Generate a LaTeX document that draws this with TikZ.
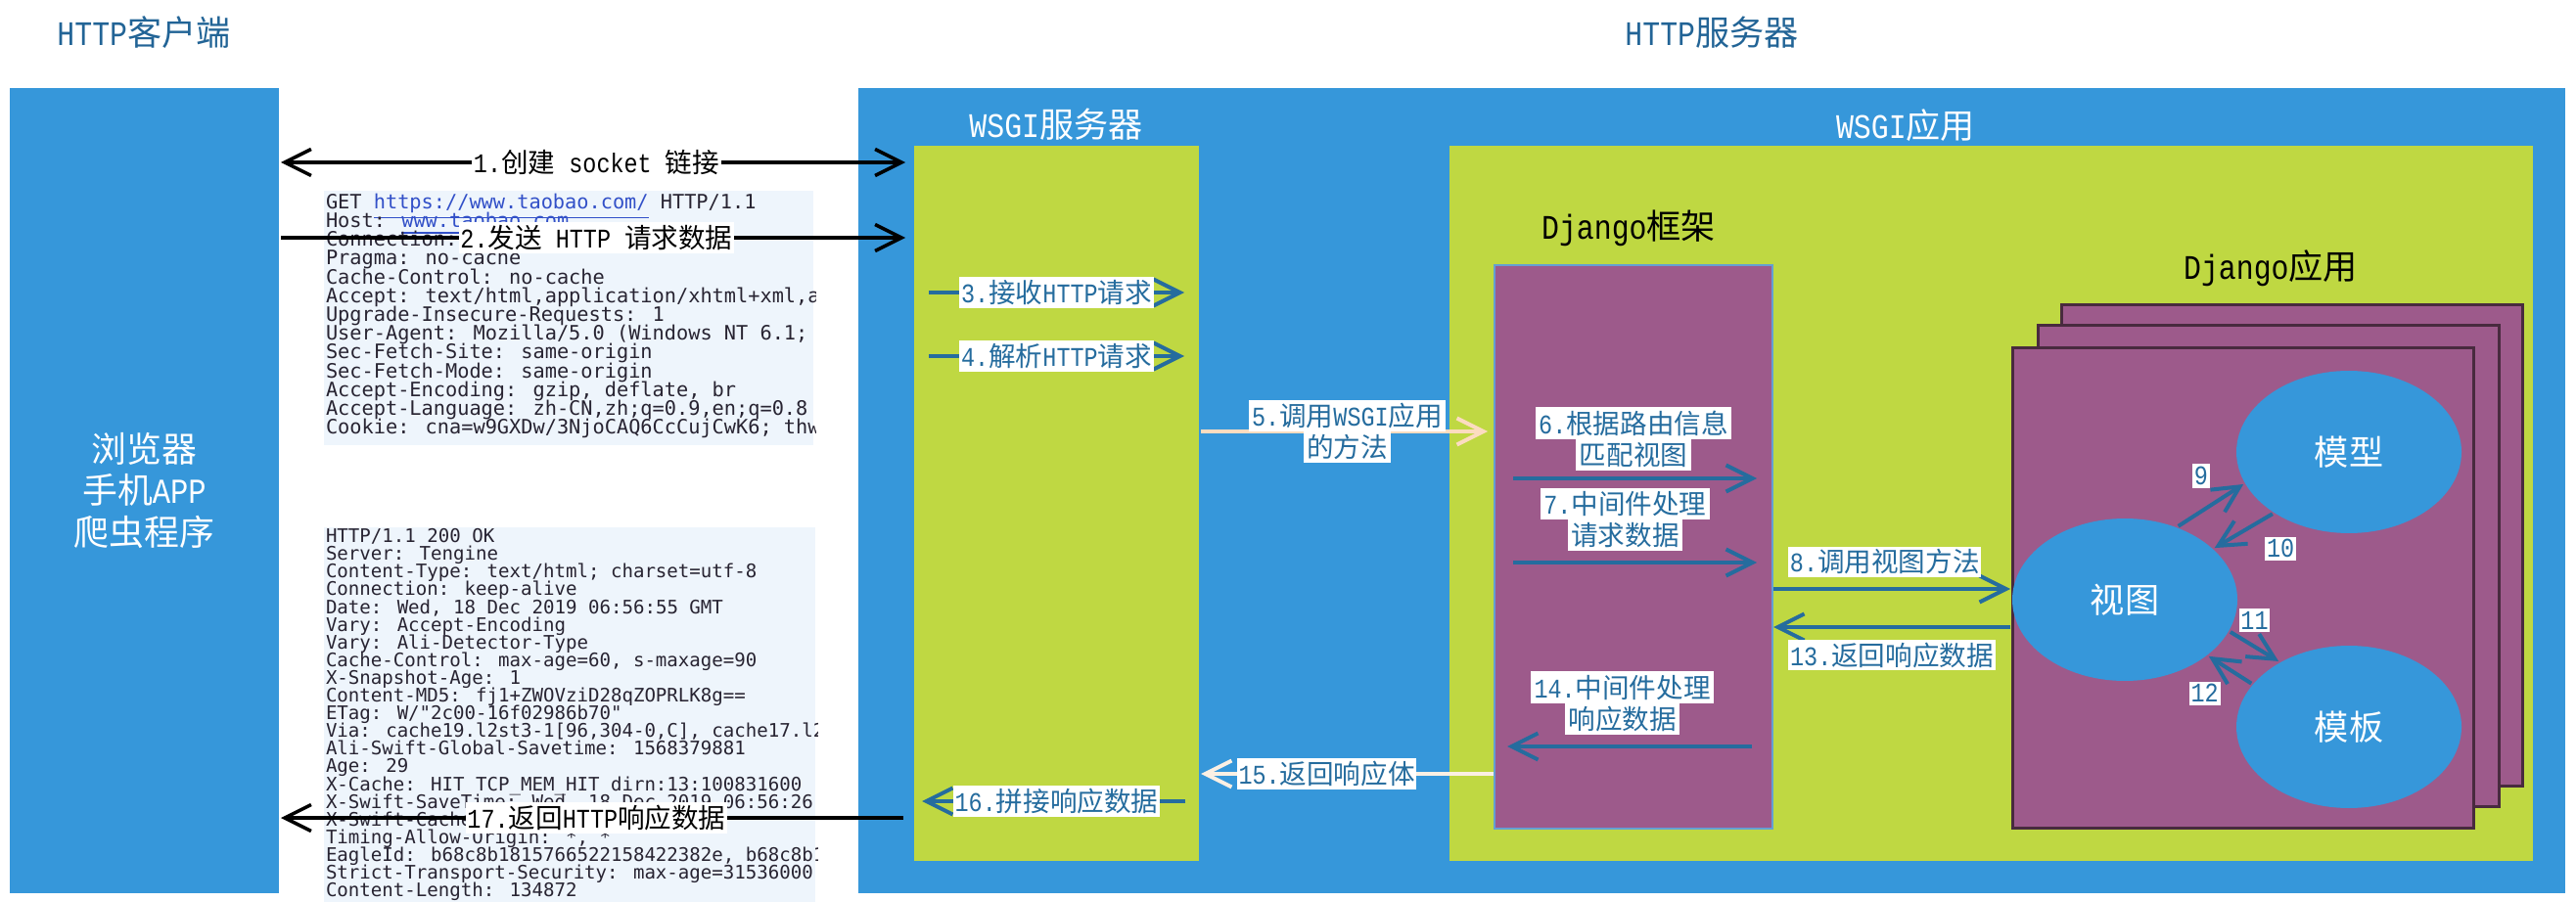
\documentclass[tikz,border=0pt]{standalone}
\usepackage{fontspec}
\usepackage{xcolor}
\usepackage{tikz}
\usetikzlibrary{arrows.meta, shapes.geometric, positioning}
\setmainfont{Liberation Mono}[FakeStretch=0.85]
\newfontfamily\cjkfont{Noto Sans CJK SC}
\newfontfamily\hdrfont{DejaVu Sans Mono}
% Han characters are set in the CJK face, the rest in the main face
\XeTeXinterchartokenstate=1
\newXeTeXintercharclass\hanclass
\newcount\hancode
\hancode="4E00
\loop
  \XeTeXcharclass\hancode=\hanclass
  \advance\hancode by 1
\ifnum\hancode<"A000 \repeat
\XeTeXinterchartoks 0 \hanclass = {\cjkfont}
\XeTeXinterchartoks 4095 \hanclass = {\cjkfont}
\XeTeXinterchartoks \hanclass 0 = {\rmfamily}
\XeTeXinterchartoks \hanclass 4095 = {\rmfamily}
\newcommand{\tightlines}{\lineskiplimit=-100pt\relax}
\definecolor{srvblue}{RGB}{54,151,218}
\definecolor{appgreen}{RGB}{191,216,66}
\definecolor{djpurple}{RGB}{157,90,139}
\definecolor{djedge}{RGB}{72,42,62}
\definecolor{fwedge}{RGB}{100,160,210}
\definecolor{flowblue}{RGB}{37,108,158}
\definecolor{titleblue}{RGB}{34,100,150}
\definecolor{hdrbg}{RGB}{238,245,252}
\definecolor{hdrtext}{RGB}{40,36,50}
\definecolor{urlblue}{RGB}{50,80,200}
\definecolor{peach}{RGB}{252,220,192}
\definecolor{cream}{RGB}{251,240,228}
\setlength{\fboxsep}{1pt}
\newcommand{\hl}[1]{\colorbox{white}{#1}}
\tikzset{
    srv/.style={fill=srvblue, inner sep=0pt},
    app/.style={fill=appgreen, inner sep=0pt},
    fw/.style={fill=djpurple, draw=fwedge, line width=0.2mm, inner sep=0pt},
    page/.style={fill=djpurple, draw=djedge, line width=0.3mm, inner sep=0pt, minimum width=47.1mm, minimum height=49.1mm},
    mvt/.style={ellipse, fill=srvblue, inner sep=0pt, minimum width=23mm, minimum height=16.6mm, text=white, font=\fontsize{10}{12}\selectfont},
    hdr/.style={fill=hdrbg, inner sep=0pt},
    hdrtxt/.style={inner sep=0pt, align=left, text=hdrtext},
    ttl/.style={inner sep=0pt, font=\fontsize{10}{12}\selectfont},
    lbl/.style={fill=white, text=flowblue, inner xsep=0.5pt, inner ysep=0.8pt, font=\fontsize{7.85}{9.1}\selectfont},
    lbl2/.style={text=flowblue, inner sep=0pt, align=center, font=\fontsize{7.85}{9.1}\selectfont\tightlines},
    bd/.style={>={Straight Barb[length=2.7mm, width=2.7mm]}, line width=0.4mm}
}
\begin{document}
\begin{tikzpicture}[x=1mm, y=-1mm, bd]
    \useasboundingbox (0,0) rectangle (263.2,92.2);
    \node[ttl, text=titleblue] (ctitle) at (14.7,3.3) {HTTP客户端};
    \node[ttl, text=titleblue] (stitle) at (174.9,3.3) {HTTP服务器};

    \node[srv, minimum width=27.5mm, minimum height=82.3mm, text=white, align=center, font=\fontsize{10.2}{12.2}\selectfont] (client) at (14.75,50.15) {浏览器\\手机APP\\爬虫程序};

    % request and response headers
    \node[hdr, minimum width=50mm, minimum height=26mm, anchor=north west] (req) at (32.9,19.3) {};
    \node[hdr, minimum width=50.2mm, minimum height=38.5mm, anchor=north west] (resp) at (32.9,53.7) {};
    \begin{scope}
        \clip (req.south west) rectangle (req.north east);
        \node[hdrtxt, anchor=north west, font=\hdrfont\fontsize{5.77}{5.46}\selectfont\tightlines] (reqtxt) at (33.1,19.6) {GET \textcolor{urlblue}{\underline{https://www.taobao.com/}} HTTP/1.1\\
Host: \textcolor{urlblue}{\underline{www.taobao.com}}\\
Connection: keep-alive\\
Pragma: no-cache\\
Cache-Control: no-cache\\
Accept: text/html,application/xhtml+xml,application/xml\\
Upgrade-Insecure-Requests: 1\\
User-Agent: Mozilla/5.0 (Windows NT 6.1; Win64; x64)\\
Sec-Fetch-Site: same-origin\\
Sec-Fetch-Mode: same-origin\\
Accept-Encoding: gzip, deflate, br\\
Accept-Language: zh-CN,zh;q=0.9,en;q=0.8\\
Cookie: cna=w9GXDw/3NjoCAQ6CcCujCwK6; thw=cn};
    \end{scope}
    \begin{scope}
        \clip (resp.south west) rectangle (resp.north east);
        \node[hdrtxt, anchor=north west, font=\hdrfont\fontsize{5.43}{5.15}\selectfont\tightlines] (resptxt) at (33.1,53.85) {HTTP/1.1 200 OK\\
Server: Tengine\\
Content-Type: text/html; charset=utf-8\\
Connection: keep-alive\\
Date: Wed, 18 Dec 2019 06:56:55 GMT\\
Vary: Accept-Encoding\\
Vary: Ali-Detector-Type\\
Cache-Control: max-age=60, s-maxage=90\\
X-Snapshot-Age: 1\\
Content-MD5: fj1+ZWOVziD28qZOPRLK8g==\\
ETag: W/"2c00-16f02986b70"\\
Via: cache19.l2st3-1[96,304-0,C], cache17.l2st3-1\\
Ali-Swift-Global-Savetime: 1568379881\\
Age: 29\\
X-Cache: HIT TCP\_MEM\_HIT dirn:13:100831600\\
X-Swift-SaveTime: Wed, 18 Dec 2019 06:56:26 GMT\\
X-Swift-CacheTime:\\
Timing-Allow-Origin: *, *\\
EagleId: b68c8b1815766522158422382e, b68c8b1\\
Strict-Transport-Security: max-age=31536000\\
Content-Length: 134872};
    \end{scope}

    % server side
    \node[srv, minimum width=174.4mm, minimum height=82.3mm] (server) at (174.9,50.15) {};
    \node[ttl, text=white] (wsgistitle) at (107.9,12.7) {WSGI服务器};
    \node[ttl, text=white] (wsgiatitle) at (194.7,12.8) {WSGI应用};
    \node[app, minimum width=29.1mm, minimum height=73.1mm] (wsgis) at (107.95,51.45) {};
    \node[app, minimum width=110.7mm, minimum height=73.1mm] (wsgia) at (203.45,51.45) {};
    \node[ttl] (fwtitle) at (166.4,23.3) {Django框架};
    \node[fw, minimum width=28.4mm, minimum height=57.6mm] (frame) at (166.9,55.9) {};
    \node[ttl] (apptitle) at (232.0,27.4) {Django应用};
    \node[page] (page3) at (234.2,55.75) {};
    \node[page] (page2) at (231.75,57.85) {};
    \node[page] (page1) at (229.15,60.1) {};
    \node[mvt] (view) at (217.1,61.3) {视图};
    \node[mvt] (model) at (240.0,46.2) {模型};
    \node[mvt] (tmpl) at (240.0,74.3) {模板};

    % arrow rows
    \coordinate (r1) at (0,16.6);
    \coordinate (r2) at (0,24.3);
    \coordinate (r3) at (0,29.9);
    \coordinate (r4) at (0,36.4);
    \coordinate (r5) at (0,44.1);
    \coordinate (r6) at (0,48.9);
    \coordinate (r7) at (0,57.5);
    \coordinate (r8) at (0,60.2);
    \coordinate (r13) at (0,64.1);
    \coordinate (r14) at (0,76.3);
    \coordinate (r15) at (0,79.1);
    \coordinate (r16) at (0,81.9);
    \coordinate (r17) at (0,83.6);

    \draw[<->, line width=0.35mm, shorten >=0.7mm] (client.east |- r1) -- (wsgis.west |- r1) node[lbl, midway, text=black] {1.创建 socket 链接};
    \draw[->, line width=0.35mm, shorten >=0.7mm] (client.east |- r2) -- (wsgis.west |- r2) node[lbl, midway, text=black] {2.发送 HTTP 请求数据};
    \draw[->, flowblue, shorten <=1.7mm, shorten >=1.7mm] (wsgis.west |- r3) -- (wsgis.east |- r3) node[lbl, midway] {3.接收HTTP请求};
    \draw[->, flowblue, shorten <=1.7mm, shorten >=1.7mm] (wsgis.west |- r4) -- (wsgis.east |- r4) node[lbl, midway] {4.解析HTTP请求};
    \draw[->, draw=peach, shorten >=0.6mm] (wsgis.east |- r5) -- (frame.west |- r5) node[lbl2, midway] {\hl{5.调用WSGI应用}\\\hl{的方法}};
    \draw[->, flowblue, shorten <=2mm, shorten >=1.7mm] (frame.west |- r6) -- (frame.east |- r6) node[lbl2, midway, above=0.6mm] {\hl{6.根据路由信息}\\\hl{匹配视图}};
    \draw[->, flowblue, shorten <=2mm, shorten >=1.7mm] (frame.west |- r7) -- (frame.east |- r7) node[lbl2, pos=0.47, above=1mm] {\hl{7.中间件处理}\\\hl{请求数据}};
    \draw[->, flowblue] (frame.east |- r8) -- (view.west |- r8) node[lbl, pos=0.47, above=1mm] {8.调用视图方法};
    \draw[->, flowblue] (view.west |- r13) -- (frame.east |- r13) node[lbl, midway, below=1.1mm] {13.返回响应数据};
    \draw[->, flowblue, shorten <=2.2mm, shorten >=1.4mm] (frame.east |- r14) -- (frame.west |- r14) node[lbl2, pos=0.54, above=1mm] {\hl{14.中间件处理}\\\hl{响应数据}};
    \draw[->, draw=cream] (frame.west |- r15) -- (wsgis.east |- r15) node[lbl, pos=0.57] {15.返回响应体};
    \draw[->, flowblue, shorten <=1.6mm, shorten >=1mm] (wsgis.east |- r16) -- (wsgis.west |- r16) node[lbl, midway] {16.拼接响应数据};
    \draw[->, line width=0.35mm, shorten <=0.9mm] (wsgis.west |- r17) -- (client.east |- r17) node[lbl, midway, text=black] {17.返回HTTP响应数据};

    % inside the app
    \draw[->, flowblue] (view.54) -- (model.197) node[lbl, pos=0.35, above=2.2mm] {9};
    \draw[->, flowblue] (model.219) -- (view.30) node[lbl, pos=0.5, below right=0.4mm and 2mm] {10};
    \draw[->, flowblue] (view.343) -- (tmpl.137) node[lbl, pos=0.5, above=1.3mm] {11};
    \draw[->, flowblue] (tmpl.156) -- (view.326) node[lbl, pos=0.5, below left=1mm and 0.8mm] {12};
\end{tikzpicture}
\end{document}
